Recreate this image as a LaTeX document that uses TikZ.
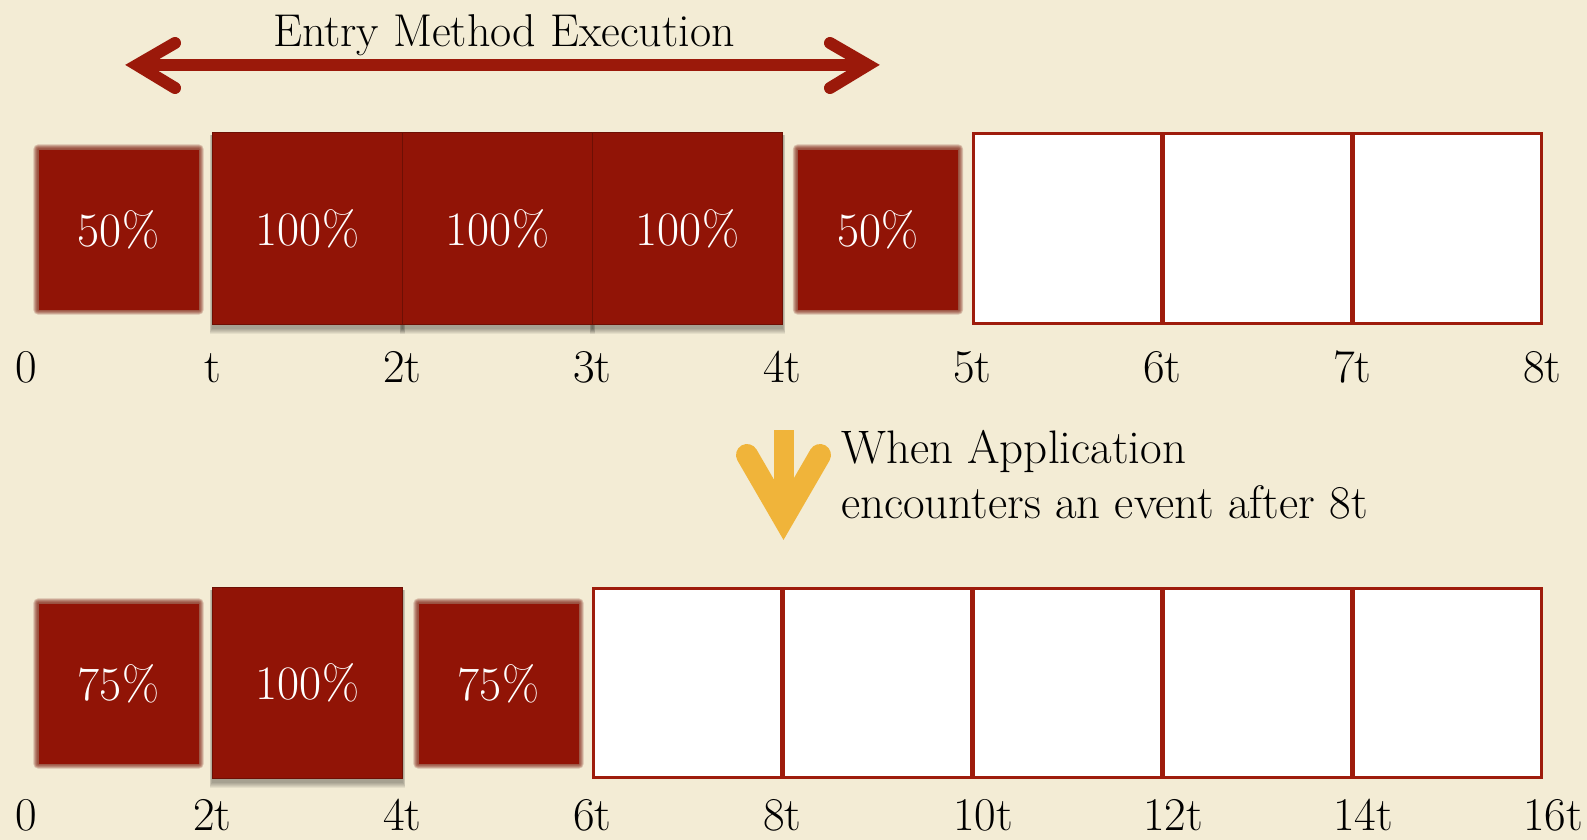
\documentclass[tikz,border=0pt]{standalone}
\usepackage{fontspec}
\usetikzlibrary{backgrounds}
\definecolor{parch}{RGB}{243,236,213}
\definecolor{boxred}{RGB}{145,20,6}
\definecolor{rimred}{RGB}{120,22,8}
\definecolor{edgered}{RGB}{158,28,12}
\definecolor{arrowred}{RGB}{155,25,10}
\definecolor{gold}{RGB}{240,180,58}
\begin{document}
\begin{tikzpicture}[x=1pt,y=-1pt,
  txt/.style={font=\fontsize{47}{55}\selectfont, text=black, inner sep=0pt},
  ticklab/.style={font=\fontsize{47}{55}\selectfont, text=black, inner sep=0pt, anchor=base},
  pct/.style={font=\fontsize{48}{56}\selectfont, text=white},
  bigbox/.style={pct, fill=boxred, draw=boxred!75!black, line width=1pt, minimum width=190pt, minimum height=191pt, inner sep=0pt},
  smallbox/.style={pct, fill=boxred, minimum width=160pt, minimum height=160pt, inner sep=0pt},
  emptybox/.style={fill=white, draw=edgered, line width=3pt, minimum width=188pt, minimum height=189pt, inner sep=0pt},
  redarrow/.style={draw=arrowred, line width=12pt},
  chevron/.style={draw=arrowred, line width=12pt, line cap=round, line join=miter},
  goldchev/.style={draw=gold, line width=22pt, line cap=round, line join=miter}
]
\useasboundingbox (0,0) rectangle (1587,840);

% ---- top arrow ----
\node[txt, font=\fontsize{46}{54}\selectfont, anchor=base] (title) at (504,47) {Entry Method Execution};
\coordinate (aL) at (137,65);
\coordinate (aR) at (868,65);
\draw[redarrow] (aL) -- (aR);
\draw[chevron] ([shift={(38,-22)}]aL) -- (aL) -- ([shift={(38,23)}]aL);
\draw[chevron] ([shift={(-38,-22)}]aR) -- (aR) -- ([shift={(-38,23)}]aR);

% ---- top row ----
\node[smallbox] (s1) at (118.5,229.5) {50\%};
\node[bigbox] (b1) at (307.5,228.5) {100\%};
\node[bigbox] (b2) at (497.5,228.5) {100\%};
\node[bigbox] (b3) at (687.5,228.5) {100\%};
\node[smallbox] (s2) at (878,229.5) {50\%};
\node[emptybox] (w1) at (1067.5,228.5) {};
\node[emptybox] (w2) at (1257.5,228.5) {};
\node[emptybox] (w3) at (1447.5,228.5) {};

\foreach \lab/\x [count=\i] in {0/26,t/212.5,2t/402.5,3t/592.5,4t/782.5,5t/972.5,6t/1162.5,7t/1352.5,8t/1542.5}
  \node[ticklab] (ta\i) at (\x,382) {\lab};

% ---- yellow arrow ----
\coordinate (yv) at (783.5,518);
\fill[gold] (773.5,430) rectangle (793.5,520);
\draw[goldchev] (747,455) -- (yv) -- (820,455);

\node[txt, anchor=base west] (note1) at (841,463) {When Application};
\node[txt, anchor=base west] (note2) at (841,518) {encounters an event after 8t};

% ---- bottom row ----
\node[smallbox] (s3) at (118.5,683.5) {75\%};
\node[bigbox] (b4) at (307.5,682.5) {100\%};
\node[smallbox] (s4) at (498.5,683.5) {75\%};
\node[emptybox] (v1) at (687.5,682.5) {};
\node[emptybox] (v2) at (877.5,682.5) {};
\node[emptybox] (v3) at (1067.5,682.5) {};
\node[emptybox] (v4) at (1257.5,682.5) {};
\node[emptybox] (v5) at (1447.5,682.5) {};

\foreach \lab/\x [count=\i] in {0/26,2t/212.5,4t/402.5,6t/592.5,8t/782.5,10t/983,12t/1173,14t/1363,16t/1553}
  \node[ticklab] (tb\i) at (\x,830) {\lab};

% ---- background, soft edges and shadows ----
\begin{scope}[on background layer]
  \fill[parch] (0,0) rectangle (1587,840);
  \foreach \n in {s1,s2,s3,s4}
    \foreach \d in {1,...,5}
      \fill[rimred, opacity=0.22, rounded corners=\d pt] ([shift={(-\d pt,\d pt)}]\n.north west) rectangle ([shift={(\d pt,-\d pt)}]\n.south east);
  \foreach \n in {b1,b2,b3,b4}
    \foreach \d in {1,...,6}
      \fill[black, opacity=0.06] ([shift={(-\d pt*0.4,-3pt)}]\n.north west) rectangle ([shift={(\d pt*0.4,-3pt-\d pt)}]\n.south east);
\end{scope}
\end{tikzpicture}
\end{document}
